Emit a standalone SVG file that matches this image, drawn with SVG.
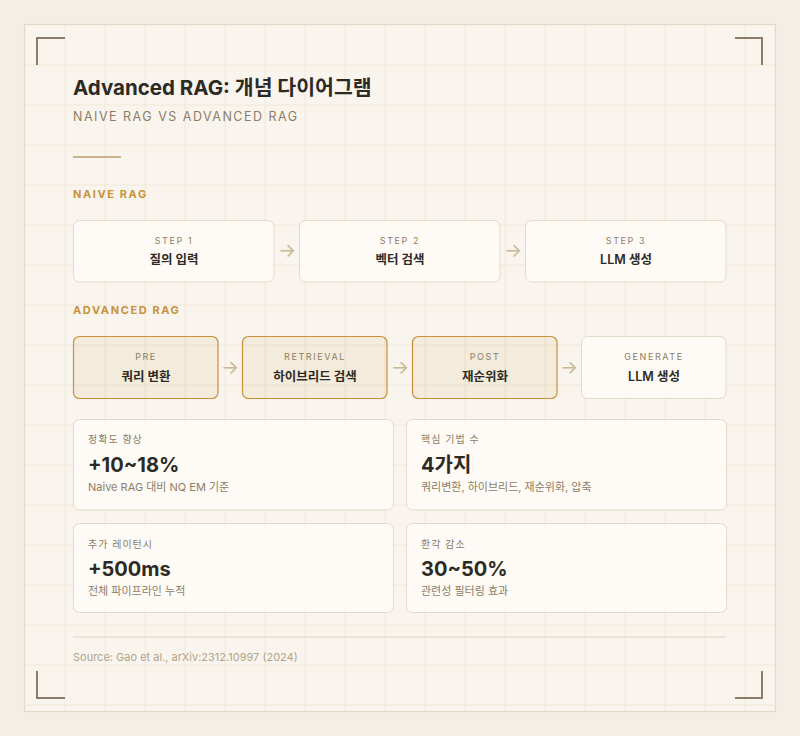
<svg xmlns="http://www.w3.org/2000/svg" width="800" height="736" viewBox="0 0 800 736">
<defs>
<style>
.t{font-family:Inter,"Noto Sans CJK KR",sans-serif}
.grid line{stroke:#efe7d8;stroke-width:1}
.corner{fill:none;stroke:#8b7d66;stroke-width:2}
.nbox{fill:#fffdf9;fill-opacity:.8;stroke:#e3dac8;stroke-width:1}
.abox{fill:#c8913a;fill-opacity:.1;stroke:#c8913a;stroke-width:1.2}
.card{fill:#fffdf9;fill-opacity:.8;stroke:#e3dac8;stroke-width:1}
.step{font-size:9px;letter-spacing:1.6px;fill:#8b7d66;text-anchor:middle}
.main{font-size:12.5px;font-weight:600;fill:#2d2a24;text-anchor:middle}
.arr{font-size:19px;fill:#c9b894;text-anchor:middle}
.sec{font-size:11px;font-weight:700;letter-spacing:1.6px;fill:#c8913a}
.lab{font-size:10px;letter-spacing:1px;fill:#8b7d66}
.val{font-size:20px;font-weight:700;fill:#2d2a24}
.sub{font-size:11px;fill:#8b7d66}
</style>
</defs>
<rect width="800" height="736" fill="#f3efe7"/>
<rect x="24.5" y="24.5" width="751" height="687" fill="#f9f5ee" stroke="#e0d8c8" stroke-width="1.2"/>
<g class="grid">
<line x1="65" y1="25" x2="65" y2="711"/><line x1="105" y1="25" x2="105" y2="711"/><line x1="145" y1="25" x2="145" y2="711"/><line x1="185" y1="25" x2="185" y2="711"/><line x1="225" y1="25" x2="225" y2="711"/><line x1="265" y1="25" x2="265" y2="711"/><line x1="305" y1="25" x2="305" y2="711"/><line x1="345" y1="25" x2="345" y2="711"/><line x1="385" y1="25" x2="385" y2="711"/><line x1="425" y1="25" x2="425" y2="711"/><line x1="465" y1="25" x2="465" y2="711"/><line x1="505" y1="25" x2="505" y2="711"/><line x1="545" y1="25" x2="545" y2="711"/><line x1="585" y1="25" x2="585" y2="711"/><line x1="625" y1="25" x2="625" y2="711"/><line x1="665" y1="25" x2="665" y2="711"/><line x1="705" y1="25" x2="705" y2="711"/><line x1="745" y1="25" x2="745" y2="711"/>
<line x1="25" y1="65" x2="775" y2="65"/><line x1="25" y1="105" x2="775" y2="105"/><line x1="25" y1="145" x2="775" y2="145"/><line x1="25" y1="185" x2="775" y2="185"/><line x1="25" y1="225" x2="775" y2="225"/><line x1="25" y1="265" x2="775" y2="265"/><line x1="25" y1="305" x2="775" y2="305"/><line x1="25" y1="345" x2="775" y2="345"/><line x1="25" y1="385" x2="775" y2="385"/><line x1="25" y1="425" x2="775" y2="425"/><line x1="25" y1="465" x2="775" y2="465"/><line x1="25" y1="505" x2="775" y2="505"/><line x1="25" y1="545" x2="775" y2="545"/><line x1="25" y1="585" x2="775" y2="585"/><line x1="25" y1="625" x2="775" y2="625"/><line x1="25" y1="665" x2="775" y2="665"/><line x1="25" y1="705" x2="775" y2="705"/>
</g>
<g id="corners">
<path class="corner" d="M37 65V38H65"/>
<path class="corner" d="M735 38H762V65"/>
<path class="corner" d="M37 671V698H65"/>
<path class="corner" d="M735 698H762V671"/>
</g>
<g id="header">
<text class="t" x="73" y="95" font-size="20.5" font-weight="700" fill="#2d2a24">Advanced RAG: 개념 다이어그램</text>
<text class="t" x="73" y="121" font-size="12.5" letter-spacing="1.5" fill="#8b7d66">NAIVE RAG VS ADVANCED RAG</text>
<line x1="73" y1="157" x2="121" y2="157" stroke="#c8b48e" stroke-width="2"/>
<text class="t sec" x="73" y="198">NAIVE RAG</text>
<text class="t sec" x="73" y="314">ADVANCED RAG</text>
</g>
<g id="connectors">
<text class="t arr" x="287" y="257">→</text>
<text class="t arr" x="513" y="257">→</text>
<text class="t arr" x="230" y="374">→</text>
<text class="t arr" x="400" y="374">→</text>
<text class="t arr" x="569" y="374">→</text>
</g>
<g id="naive1"><rect class="nbox" x="73.5" y="220.5" width="200.5" height="61.5" rx="6"/><text class="t step" x="174" y="244">STEP 1</text><text class="t main" x="174" y="264">질의 입력</text></g>
<g id="naive2"><rect class="nbox" x="299.5" y="220.5" width="200.5" height="61.5" rx="6"/><text class="t step" x="400" y="244">STEP 2</text><text class="t main" x="400" y="264">벡터 검색</text></g>
<g id="naive3"><rect class="nbox" x="525.5" y="220.5" width="200.5" height="61.5" rx="6"/><text class="t step" x="626" y="244">STEP 3</text><text class="t main" x="626" y="264">LLM 생성</text></g>
<g id="adv1"><rect class="abox" x="73.5" y="336.5" width="144.5" height="62" rx="6"/><text class="t step" x="146" y="360">PRE</text><text class="t main" x="146" y="381">쿼리 변환</text></g>
<g id="adv2"><rect class="abox" x="242.5" y="336.5" width="144.5" height="62" rx="6"/><text class="t step" x="315" y="360">RETRIEVAL</text><text class="t main" x="315" y="381">하이브리드 검색</text></g>
<g id="adv3"><rect class="abox" x="412.5" y="336.5" width="144.5" height="62" rx="6"/><text class="t step" x="485" y="360">POST</text><text class="t main" x="485" y="381">재순위화</text></g>
<g id="adv4"><rect class="nbox" x="581.5" y="336.5" width="144.5" height="62" rx="6"/><text class="t step" x="654" y="360">GENERATE</text><text class="t main" x="654" y="381">LLM 생성</text></g>
<g id="stat1"><rect class="card" x="73.5" y="419.5" width="320" height="90.5" rx="6"/><text class="t lab" x="88" y="443">정확도 향상</text><text class="t val" x="88" y="472">+10~18%</text><text class="t sub" x="88" y="491">Naive RAG 대비 NQ EM 기준</text></g>
<g id="stat2"><rect class="card" x="406.5" y="419.5" width="320" height="90.5" rx="6"/><text class="t lab" x="421" y="443">핵심 기법 수</text><text class="t val" x="421" y="472">4가지</text><text class="t sub" x="421" y="491">쿼리변환, 하이브리드, 재순위화, 압축</text></g>
<g id="stat3"><rect class="card" x="73.5" y="523.5" width="320" height="89" rx="6"/><text class="t lab" x="88" y="548">추가 레이턴시</text><text class="t val" x="88" y="576">+500ms</text><text class="t sub" x="88" y="595">전체 파이프라인 누적</text></g>
<g id="stat4"><rect class="card" x="406.5" y="523.5" width="320" height="89" rx="6"/><text class="t lab" x="421" y="548">환각 감소</text><text class="t val" x="421" y="576">30~50%</text><text class="t sub" x="421" y="595">관련성 필터링 효과</text></g>
<g id="footer">
<line x1="73" y1="637" x2="726" y2="637" stroke="#ddd4c4" stroke-width="1"/>
<text class="t" x="73" y="661" font-size="11" fill="#b0a38a">Source: Gao et al., arXiv:2312.10997 (2024)</text>
</g>
</svg>
